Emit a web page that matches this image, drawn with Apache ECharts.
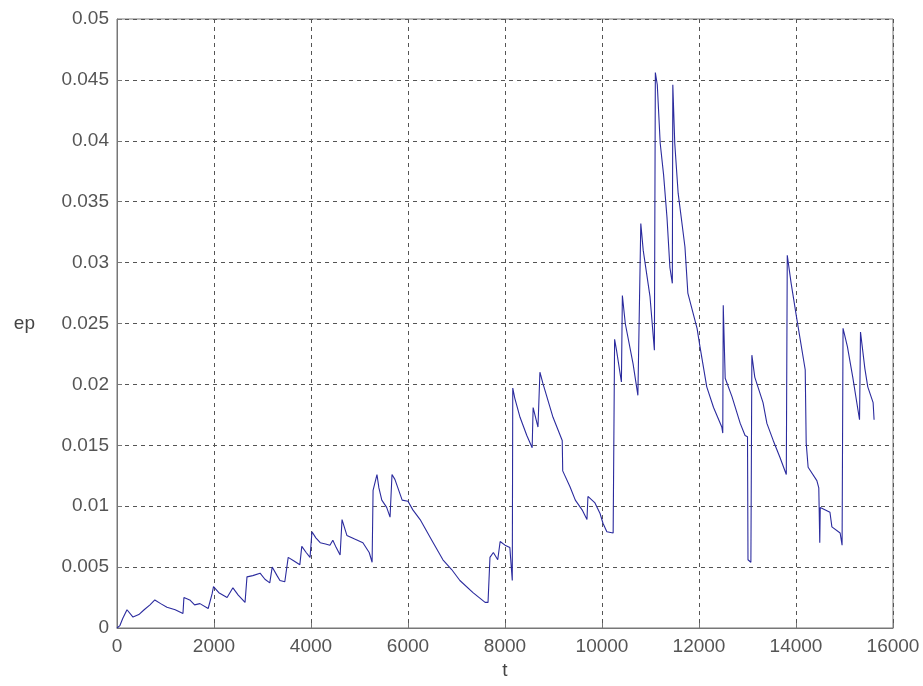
<!DOCTYPE html>
<html>
<head>
<meta charset="utf-8">
<script src="https://cdn.jsdelivr.net/npm/echarts@6/dist/echarts.min.js"></script>
<style>html,body{margin:0;padding:0;background:#fff;}#c{width:923px;height:686px;}</style>
</head>
<body>
<div id="c"></div>
<script>
const xTicks = [0,2000,4000,6000,8000,10000,12000,14000,16000];
const yTicks = [0,0.005,0.01,0.015,0.02,0.025,0.03,0.035,0.04,0.045,0.05];
const tValues = [0,60,120,206,330,450,560,680,780,900,1030,1200,1360,1380,1500,1600,1710,1880,1960,1990,2100,2270,2390,2500,2640,2680,2800,2950,3050,3150,3200,3300,3360,3460,3530,3650,3770,3810,3900,3980,4020,4100,4190,4300,4390,4450,4520,4600,4640,4740,4900,5070,5200,5260,5280,5360,5400,5460,5560,5630,5670,5730,5880,6000,6100,6250,6490,6720,6900,7070,7340,7590,7650,7690,7760,7850,7900,8000,8100,8150,8160,8200,8310,8450,8560,8580,8680,8720,8780,8990,9180,9190,9340,9450,9590,9690,9710,9850,9960,10020,10100,10230,10260,10300,10400,10420,10480,10640,10740,10780,10800,10850,10990,11080,11100,11140,11180,11200,11270,11340,11400,11450,11460,11500,11570,11710,11770,11960,12020,12160,12300,12470,12490,12500,12540,12680,12850,12950,13000,13010,13070,13090,13150,13320,13400,13530,13670,13800,13820,13900,14020,14190,14210,14250,14430,14470,14490,14500,14700,14740,14910,14950,14970,15060,15170,15310,15330,15420,15480,15590,15610];
const epValues = [0,0.0002,0.0008,0.0015,0.0009,0.0011,0.0015,0.0019,0.0023,0.002,0.0017,0.0015,0.0012,0.0025,0.0023,0.0019,0.002,0.0016,0.0028,0.0034,0.0029,0.0025,0.0033,0.0027,0.0021,0.0042,0.0043,0.0045,0.004,0.0037,0.005,0.0043,0.0039,0.0038,0.0058,0.0055,0.0052,0.0067,0.0062,0.0058,0.0079,0.0074,0.007,0.0069,0.0068,0.0072,0.0066,0.006,0.0089,0.0076,0.0073,0.007,0.0062,0.0054,0.0113,0.0126,0.0115,0.0105,0.0099,0.0091,0.0126,0.0122,0.0105,0.0104,0.0097,0.0089,0.0072,0.0056,0.0048,0.0039,0.0029,0.0021,0.0021,0.0058,0.0062,0.0056,0.0071,0.0068,0.0066,0.0039,0.0197,0.0189,0.0173,0.0158,0.0148,0.0181,0.0165,0.021,0.0201,0.0173,0.0154,0.0129,0.0116,0.0105,0.0097,0.0089,0.0108,0.0103,0.0094,0.0086,0.0079,0.0078,0.0237,0.0228,0.0202,0.0273,0.025,0.0217,0.0191,0.019,0.0332,0.031,0.0272,0.0228,0.0456,0.0446,0.0446,0.0398,0.0372,0.0337,0.0296,0.0283,0.0446,0.0398,0.0357,0.0313,0.0275,0.0246,0.0231,0.0198,0.0181,0.0165,0.016,0.0265,0.0205,0.019,0.0168,0.0158,0.0157,0.0056,0.0054,0.0224,0.0206,0.0185,0.0168,0.0154,0.014,0.0126,0.0306,0.0283,0.0253,0.0212,0.0152,0.0132,0.0121,0.0115,0.007,0.0099,0.0095,0.0083,0.0078,0.0068,0.0246,0.0231,0.0206,0.0171,0.0243,0.0213,0.0198,0.0185,0.0171];
const xName = 't';
const yName = 'ep';

const data = tValues.map((t, i) => [t, epValues[i]]);
const chart = echarts.init(document.getElementById('c'), null, {renderer: 'canvas'});
const FONT = 'Liberation Sans, Arial, sans-serif';
const labelStyle = {color: '#555', fontSize: 19, fontFamily: FONT};
chart.setOption({
  animation: false,
  backgroundColor: '#fff',
  grid: {left: 117, right: 30, top: 19, bottom: 58, show: true, borderColor: '#777', borderWidth: 1},
  xAxis: {
    type: 'value', min: 0, max: 16000, interval: 2000,
    name: xName, nameLocation: 'middle', nameGap: 31,
    nameTextStyle: {color: '#444', fontSize: 19, fontFamily: FONT},
    axisLine: {show: true, lineStyle: {color: '#777'}},
    axisTick: {show: true, inside: true, length: 5, lineStyle: {color: '#777'}},
    axisLabel: Object.assign({margin: 9, formatter: v => xTicks.includes(v) ? String(v) : ''}, labelStyle),
    splitLine: {show: true, lineStyle: {color: '#555', type: [4, 4], width: 1}}
  },
  yAxis: {
    type: 'value', min: 0, max: 0.05, interval: 0.005,
    name: yName, nameLocation: 'middle', nameGap: 82, nameRotate: 0,
    nameTextStyle: {color: '#444', fontSize: 19, fontFamily: FONT},
    axisLine: {show: true, lineStyle: {color: '#777'}},
    axisTick: {show: true, inside: true, length: 5, lineStyle: {color: '#777'}},
    axisLabel: Object.assign({margin: 8, formatter: v => {
      const m = yTicks.find(y => Math.abs(y - v) < 1e-9);
      return m === undefined ? '' : String(m);
    }}, labelStyle),
    splitLine: {show: true, lineStyle: {color: '#555', type: [4, 4], width: 1}}
  },
  series: [{
    type: 'line', data: data, showSymbol: false, symbol: 'none',
    lineStyle: {color: '#2b2b9e', width: 1.1}
  }]
});
</script>
</body>
</html>
